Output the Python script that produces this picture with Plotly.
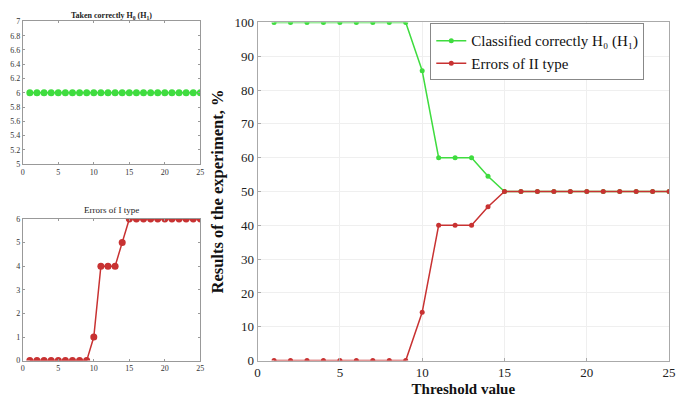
import plotly.graph_objects as go

x = list(range(1, 26))
taken_correctly = [6] * 25
errors_type1 = [0, 0, 0, 0, 0, 0, 0, 0, 0, 1, 4, 4, 4, 5, 6, 6, 6, 6, 6, 6, 6, 6, 6, 6, 6]
classified_correctly = [100] * 9 + [85.7, 60, 60, 60, 54.5] + [50] * 11
errors_type2 = [0] * 9 + [14.3, 40, 40, 40, 45.5] + [50] * 11

GREEN = "#3fdc3f"
RED = "#c83232"
SERIF = "Liberation Serif, Times New Roman, serif"

W, H = 681, 411
def dx(a, b):
    return [a / W, b / W]
def dy(top, bottom):
    return [1 - bottom / H, 1 - top / H]

fig = go.Figure()

fig.add_trace(go.Scatter(x=x, y=taken_correctly, mode="lines+markers",
                         line=dict(color=GREEN, width=1.5),
                         marker=dict(color=GREEN, size=7),
                         xaxis="x", yaxis="y", showlegend=False))
fig.add_trace(go.Scatter(x=x, y=errors_type1, mode="lines+markers",
                         line=dict(color=RED, width=1.5),
                         marker=dict(color=RED, size=7),
                         xaxis="x2", yaxis="y2", showlegend=False))
fig.add_trace(go.Scatter(x=x, y=classified_correctly, mode="lines+markers",
                         name="Classified correctly H\u2080 (H\u2081)",
                         line=dict(color=GREEN, width=1.5),
                         marker=dict(color=GREEN, size=5),
                         xaxis="x3", yaxis="y3"))
fig.add_trace(go.Scatter(x=x, y=errors_type2, mode="lines+markers",
                         name="Errors of II type",
                         line=dict(color=RED, width=1.5),
                         marker=dict(color=RED, size=5),
                         xaxis="x3", yaxis="y3"))

small_ax = dict(showline=True, linecolor="#999", linewidth=1, mirror="ticks",
                ticks="inside", ticklen=2, tickcolor="#999", showgrid=False,
                zeroline=False, tickfont=dict(family=SERIF, size=8, color="#333"))

fig.update_layout(
    width=W, height=H, margin=dict(l=0, r=0, t=0, b=0),
    paper_bgcolor="white", plot_bgcolor="white",
    xaxis=dict(domain=dx(20, 200), range=[0, 25], tickvals=[0, 5, 10, 15, 20, 25],
               anchor="y", **small_ax),
    yaxis=dict(domain=dy(15, 163), range=[5, 7],
               tickvals=[5, 5.2, 5.4, 5.6, 5.8, 6, 6.2, 6.4, 6.6, 6.8, 7],
               ticktext=["5", "5.2", "5.4", "5.6", "5.8", "6", "6.2", "6.4", "6.6", "6.8", "7"],
               anchor="x", **small_ax),
    xaxis2=dict(domain=dx(20, 200), range=[0, 25], tickvals=[0, 5, 10, 15, 20, 25],
                anchor="y2", **small_ax),
    yaxis2=dict(domain=dy(220, 367), range=[0, 6], tickvals=[0, 1, 2, 3, 4, 5, 6],
                anchor="x2", **small_ax),
    xaxis3=dict(domain=dx(258, 675), range=[0, 25], tickvals=[0, 5, 10, 15, 20, 25],
                anchor="y3", showline=True, linecolor="#aaa", mirror=True,
                ticks="inside", ticklen=3, tickcolor="#aaa",
                showgrid=True, gridcolor="#efefef", zeroline=False,
                tickfont=dict(family=SERIF, size=13, color="#222"),
                title=dict(text="<b>Threshold value</b>", standoff=4,
                           font=dict(family=SERIF, size=15, color="#111"))),
    yaxis3=dict(domain=dy(16, 367), range=[0, 100], tickvals=list(range(0, 101, 10)),
                anchor="x3", showline=True, linecolor="#aaa", mirror=True,
                ticks="inside", ticklen=3, tickcolor="#aaa",
                showgrid=True, gridcolor="#efefef", zeroline=False,
                tickfont=dict(family=SERIF, size=13, color="#222"),
                title=dict(text="<b>Results of the experiment, %</b>", standoff=6,
                           font=dict(family=SERIF, size=16.5, color="#111"))),
    legend=dict(x=433 / W, y=1 - 17 / H, xanchor="left", yanchor="top",
                bgcolor="white", bordercolor="#888", borderwidth=1,
                font=dict(family=SERIF, size=15, color="#111"),
                itemwidth=30, tracegroupgap=0),
    annotations=[
        dict(text="<b>Taken correctly H<sub>0</sub> (H<sub>1</sub>)</b>", x=110 / W, y=1 - 9 / H,
             xref="paper", yref="paper", showarrow=False, xanchor="center", yanchor="middle",
             font=dict(family=SERIF, size=8, color="#222")),
        dict(text="Errors of I type", x=110 / W, y=1 - 211 / H,
             xref="paper", yref="paper", showarrow=False, xanchor="center", yanchor="middle",
             font=dict(family=SERIF, size=9, color="#222")),
    ],
)

fig.write_html("out.html")
